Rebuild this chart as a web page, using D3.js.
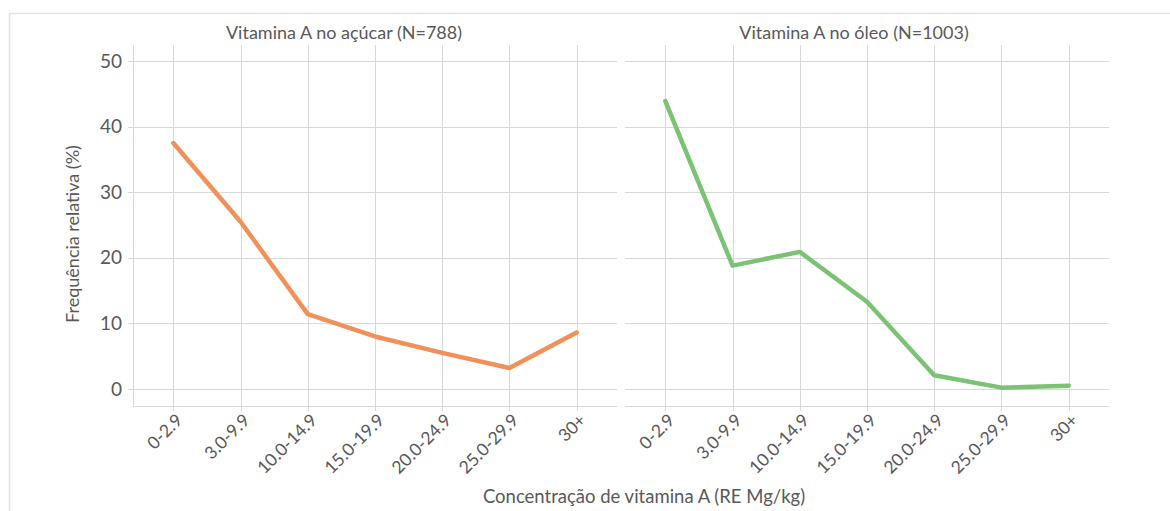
<!DOCTYPE html>
<html>
<head>
<meta charset="utf-8">
<script src="https://cdn.jsdelivr.net/npm/d3@7"></script>
<style>
  body { margin: 0; background: #fff; }
  text { font-family: Lato, "Open Sans", sans-serif; fill: #595959; }
</style>
</head>
<body>
<div id="chart"></div>
<script>
// categories on the x axis
var categories = ["0-2.9", "3.0-9.9", "10.0-14.9", "15.0-19.9", "20.0-24.9", "25.0-29.9", "30+"];

// relative frequency (%) per panel
var sugarValues = [37.5, 25.5, 11.4, 8.0, 5.5, 3.2, 8.6];
var oilValues = [43.9, 18.8, 20.9, 13.3, 2.1, 0.2, 0.5];

var panelTitles = ["Vitamina A no açúcar (N=788)", "Vitamina A no óleo (N=1003)"];
var yTicks = [0, 10, 20, 30, 40, 50];

var width = 1170, height = 511;

var svg = d3.select("#chart").append("svg")
    .attr("width", width)
    .attr("height", height);

// outer border
svg.append("rect")
    .attr("x", 9.5).attr("y", 13.5)
    .attr("width", width + 10).attr("height", height + 10)
    .attr("fill", "none")
    .attr("stroke", "#e3e3e3")
    .attr("stroke-width", 1.5);

// shared y scale
var y = d3.scaleLinear()
    .domain([-2.6, 52.45])
    .range([406, 45]);

// panel definitions
var panels = [
  {values: sugarValues, color: "#f0915a", x0: 133, x1: 617, title: panelTitles[0], titleX: 344, axisLine: true},
  {values: oilValues, color: "#7cc275", x0: 625, x1: 1109, title: panelTitles[1], titleX: 854, axisLine: false}
];

panels.forEach(function(p) {
  var x = d3.scalePoint()
      .domain(categories)
      .range([p.x0, p.x1])
      .padding(0.6);

  var g = svg.append("g");

  // horizontal gridlines
  g.selectAll(".hgrid")
    .data(yTicks)
    .enter().append("line")
      .attr("x1", p.axisLine ? p.x0 - 5 : p.x0)
      .attr("x2", p.x1)
      .attr("y1", function(d) { return Math.round(y(d)) + 0.5; })
      .attr("y2", function(d) { return Math.round(y(d)) + 0.5; })
      .attr("stroke", "#d9d9d9");

  // vertical gridlines with tick below axis
  g.selectAll(".vgrid")
    .data(categories)
    .enter().append("line")
      .attr("x1", function(d) { return Math.round(x(d)) + 0.5; })
      .attr("x2", function(d) { return Math.round(x(d)) + 0.5; })
      .attr("y1", 45)
      .attr("y2", 411)
      .attr("stroke", "#d9d9d9");

  // bottom axis line
  g.append("line")
    .attr("x1", p.x0).attr("x2", p.x1)
    .attr("y1", 406.5).attr("y2", 406.5)
    .attr("stroke", "#d9d9d9");

  if (p.axisLine) {
    g.append("line")
      .attr("x1", p.x0 + 0.5).attr("x2", p.x0 + 0.5)
      .attr("y1", 45).attr("y2", 406)
      .attr("stroke", "#d9d9d9");

    // y tick labels
    g.selectAll(".ylab")
      .data(yTicks)
      .enter().append("text")
        .attr("x", 122)
        .attr("y", function(d) { return y(d); })
        .attr("dy", "0.35em")
        .attr("text-anchor", "end")
        .style("font-size", "19px")
        .text(function(d) { return d; });
  }

  // x tick labels, rotated
  g.selectAll(".xlab")
    .data(categories)
    .enter().append("text")
      .attr("transform", function(d) {
        return "translate(" + (x(d) + 6) + ",417) rotate(-45)";
      })
      .attr("text-anchor", "end")
      .attr("dy", "0.35em")
      .style("font-size", "17.5px")
      .text(function(d) { return d; });

  // panel title
  g.append("text")
    .attr("x", p.titleX)
    .attr("y", 39)
    .attr("text-anchor", "middle")
    .style("font-size", "18px")
    .text(p.title);

  // line
  var line = d3.line()
      .x(function(d, i) { return x(categories[i]); })
      .y(function(d) { return y(d); });

  g.append("path")
    .datum(p.values)
    .attr("d", line)
    .attr("fill", "none")
    .attr("stroke", p.color)
    .attr("stroke-width", 4.5)
    .attr("stroke-linejoin", "round")
    .attr("stroke-linecap", "round");
});

// y axis title
svg.append("text")
  .attr("transform", "translate(79,234) rotate(-90)")
  .attr("text-anchor", "middle")
  .style("font-size", "18px")
  .text("Frequência relativa (%)");

// x axis title
svg.append("text")
  .attr("x", 644)
  .attr("y", 503)
  .attr("text-anchor", "middle")
  .style("font-size", "18.5px")
  .text("Concentração de vitamina A (RE Mg/kg)");
</script>
</body>
</html>
